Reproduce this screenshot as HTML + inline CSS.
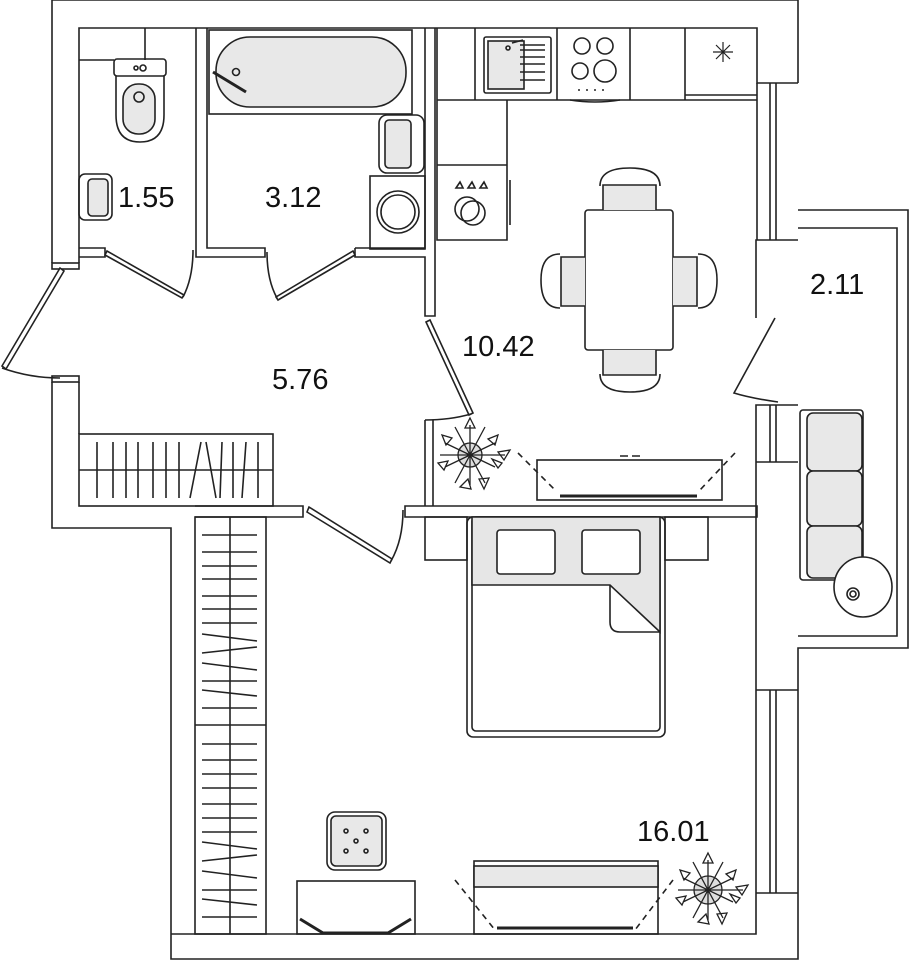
<!DOCTYPE html><html><head><style>body{margin:0;background:#fff}svg{display:block}text{font-family:"Liberation Sans",sans-serif;font-size:29px;fill:#111;stroke:none}</style></head><body>
<svg width="909" height="960" viewBox="0 0 909 960" fill="none" stroke="#222" stroke-width="1.6">
<!-- outer walls -->
<path d="M52 263 V0 H798 V83 M52 382 V528 H171 V959 H798 V648 H908 V210 H798" />
<path d="M79 263 V28 H757 V83 H798" />
<path d="M79 382 V434" />
<path d="M171 934 H756 V893 H798 M756 893 V690 H798 M756 690 V462 H798 M756 462 V405 H798 M756 318 V240 H798 M757 240 V83" />
<path d="M798 228 H897 V636 H798" />
<!-- windows -->
<path d="M770 83 V240 M776 83 V240 M770 405 V462 M776 405 V462 M770 690 V893 M776 690 V893"/>
<!-- entrance door -->
<rect x="52" y="263" width="27" height="6" fill="#fff"/><rect x="52" y="376" width="27" height="6" fill="#fff"/>
<path d="M60 268 L2 366 L6 369 L64 271 Z" fill="#fff"/><path d="M2 368 Q30 378 60 378"/>
<!-- bathroom walls -->
<path d="M196 28 V257 H265 V248 H207 V28"/>
<path d="M79 248 H105 V257 H79"/>
<path d="M355 248 H425 V28 M435 28 V316 H425 V257 H355 V248"/>
<path d="M105 255 L182 298 L184 295 L107 251 Z" fill="#fff"/><path d="M183 297 Q193 278 193 250"/>
<path d="M355 255 L278 300 L276 297 L353 251 Z" fill="#fff"/><path d="M277 298 Q267 280 267 252"/>
<!-- toilet room fixtures -->
<path d="M145 28 V60 M79 60 H114"/>
<rect x="114" y="59" width="52" height="17" rx="3"/><circle cx="136" cy="68" r="2"/><circle cx="143" cy="68" r="3"/>
<path d="M116 76 V115 Q116 142 140 142 Q164 142 164 115 V76" /><rect x="123" y="84" width="32" height="50" rx="15" fill="#e8e8e8"/><circle cx="139" cy="97" r="5"/>
<rect x="79" y="174" width="33" height="46" rx="6"/><rect x="88" y="179" width="20" height="37" rx="4" fill="#e8e8e8"/>
<text x="118" y="207">1.55</text>
<!-- bath -->
<rect x="209" y="30" width="203" height="84"/><rect x="216" y="37" width="190" height="70" rx="34" fill="#e8e8e8"/>
<path d="M213 72 L246 92" stroke-width="3"/><circle cx="236" cy="72" r="3.5"/>
<rect x="379" y="115" width="45" height="58" rx="8"/><rect x="385" y="120" width="26" height="48" rx="4" fill="#e8e8e8"/>
<rect x="370" y="176" width="55" height="73"/><circle cx="398" cy="212" r="21"/><circle cx="398" cy="212" r="17"/>
<text x="265" y="207">3.12</text>
<text x="272" y="389">5.76</text>
<!-- hallway closet -->
<rect x="79" y="434" width="194" height="72"/><line x1="79" y1="470" x2="273" y2="470"/>
<path d="M97 442 V498 M113 442 V498 M126 442 V498 M138 442 V498 M153 442 V498 M166 442 V498 M179 442 V498 M190 498 L201 442 M206 442 L216 498 M222 442 L220 498 M233 442 V498 M246 442 L242 498 M258 442 V498"/>
<!-- wall hallway/bedroom -->
<path d="M195 506 H303 V517 H195"/>
<path d="M307 512 L390 563 L392 559 L309 507 Z" fill="#fff"/><path d="M391 561 Q403 540 403 510"/>
<path d="M405 506 H757 V517 H405 Z"/>
<!-- wardrobe -->
<rect x="195" y="517" width="71" height="417"/><line x1="230" y1="517" x2="230" y2="934"/><line x1="195" y1="725" x2="266" y2="725"/>
<path d="M202 535 H257 M202 552 H257 M202 566 H257 M202 579 H257 M202 596 H257 M202 609 H257 M202 623 H257 M202 634 L257 641 M202 653 L257 647 M202 663 L257 670 M202 681 H257 M202 690 L257 696 M202 708 H257 M202 744 H257 M202 760 H257 M202 774 H257 M202 788 H257 M202 804 H257 M202 818 H257 M202 832 H257 M202 842 L257 849 M202 861 L257 855 M202 871 L257 878 M202 890 H257 M202 899 L257 905 M202 917 H257"/>
<!-- kitchen left wall -->
<path d="M425 420 V506 M433 420 V506"/>
<path d="M430 320 L473 413 L469 415 L426 322 Z" fill="#fff"/><path d="M471 414 Q450 420 425 420"/>
<!-- kitchen counter -->
<path d="M437 28 V240 H507 V100 H757 M437 100 H507"/>
<path d="M475 28 V100 M557 28 V100 M630 28 V100 M685 28 V100"/>
<line x1="685" y1="95" x2="757" y2="95"/>
<rect x="484" y="37" width="67" height="56" rx="2"/><rect x="488" y="41" width="36" height="48" fill="#e8e8e8"/>
<path d="M520 45 H545 M520 50 H545 M520 57 H545 M520 64 H545 M520 72 H545 M520 80 H545"/>
<circle cx="508" cy="48" r="2"/><path d="M512 43 L523 40"/>
<circle cx="582" cy="46" r="8"/><circle cx="605" cy="46" r="8"/><circle cx="580" cy="71" r="8"/><circle cx="605" cy="71" r="11"/>
<path d="M578 90 h2 M586 90 h2 M594 90 h2 M602 90 h2"/><path d="M570 100 Q595 104 620 100"/>
<path d="M713 52 H733 M723 42 V62 M716 45 L730 59 M730 45 L716 59" stroke-width="1.2"/>
<line x1="437" y1="165" x2="507" y2="165"/>
<path d="M510 180 V225"/>
<circle cx="467" cy="209" r="12"/><circle cx="473" cy="213" r="12"/>
<path d="M456 188 l4 -6 l3 6 z M468 188 l4 -6 l3 6 z M480 188 l4 -6 l3 6 z"/>
<text x="462" y="356">10.42</text>
<!-- dining -->
<rect x="585" y="210" width="88" height="140" rx="3"/>
<path d="M603 210 V185 H656 V210" fill="#e8e8e8"/><path d="M600 186 Q600 168 630 168 Q660 168 660 186"/>
<path d="M603 350 V375 H656 V350" fill="#e8e8e8"/><path d="M600 374 Q600 392 630 392 Q660 392 660 374"/>
<path d="M585 257 H561 V306 H585" fill="#e8e8e8"/><path d="M560 254 Q541 254 541 280 Q541 308 560 308"/>
<path d="M673 257 H697 V306 H673" fill="#e8e8e8"/><path d="M698 254 Q717 254 717 280 Q717 308 698 308"/>
<!-- balcony door -->
<path d="M775 318 L734 393 Q750 398 778 402"/>
<text x="810" y="294">2.11</text>
<!-- sofa -->
<rect x="800" y="410" width="63" height="170" rx="3"/>
<rect x="807" y="413" width="55" height="58" rx="6" fill="#e8e8e8"/><rect x="807" y="471" width="55" height="55" rx="6" fill="#e8e8e8"/><rect x="807" y="526" width="55" height="52" rx="6" fill="#e8e8e8"/>
<ellipse cx="863" cy="587" rx="29" ry="30" fill="#fff"/><circle cx="853" cy="594" r="6"/><circle cx="853" cy="594" r="3"/>
<!-- kitchen TV / plant -->
<rect x="537" y="460" width="185" height="40"/><path d="M560 496 H697" stroke-width="3"/>
<path d="M518 453 L555 490 M735 453 L700 490" stroke-dasharray="6 5"/>
<path d="M620 456 h8 M632 456 h8"/>
<g transform="translate(470,455)" stroke-width="1.3"><circle r="12" fill="#ddd"/><path d="M-25 -12 L25 12 M-25 12 L25 -12 M0 -30 V30 M-30 0 H35 M-15 -28 L15 28 M15 -28 L-15 28"/><path d="M0 -37 l5 10 l-10 0 z M-28 -20 l10 3 l-6 7 z M28 -20 l-3 10 l-7 -6 z M-32 8 l10 -2 l-4 9 z M32 8 l-10 -4 l6 9 z M-10 32 l8 -8 l3 10 z M14 34 l-5 -10 l10 -1 z M40 -5 l-12 2 l6 8 z"/></g>
<!-- bed -->
<rect x="425" y="517" width="42" height="43"/><rect x="665" y="517" width="43" height="43"/>
<rect x="467" y="517" width="198" height="220" rx="6"/><rect x="472" y="517" width="188" height="214" rx="4"/>
<path d="M472 517 H660 V632 L610 585 H472 Z" fill="#e6e6e6"/><path d="M610 585 V622 Q610 632 620 632 H660"/>
<rect x="497" y="530" width="58" height="44" rx="3" fill="#fff"/><rect x="582" y="530" width="58" height="44" rx="3" fill="#fff"/>
<!-- bedroom -->
<rect x="327" y="812" width="59" height="58" rx="8"/><rect x="331" y="816" width="51" height="50" rx="5" fill="#e8e8e8"/>
<circle cx="346" cy="831" r="2"/><circle cx="366" cy="831" r="2"/><circle cx="356" cy="841" r="2"/><circle cx="346" cy="851" r="2"/><circle cx="366" cy="851" r="2"/>
<rect x="297" y="881" width="118" height="53"/><path d="M300 919 L323 933 H388 L411 919" stroke-width="3"/>
<rect x="474" y="861" width="184" height="73"/><rect x="474" y="866" width="184" height="21" fill="#e8e8e8"/>
<path d="M455 880 L495 930 M673 880 L635 930" stroke-dasharray="6 5"/><path d="M497 928 H633" stroke-width="3"/>
<text x="637" y="841">16.01</text>
<g transform="translate(708,890)" stroke-width="1.3"><circle r="14" fill="#ddd"/><path d="M-25 -12 L25 12 M-25 12 L25 -12 M0 -30 V30 M-30 0 H35 M-15 -28 L15 28 M15 -28 L-15 28"/><path d="M0 -37 l5 10 l-10 0 z M-28 -20 l10 3 l-6 7 z M28 -20 l-3 10 l-7 -6 z M-32 8 l10 -2 l-4 9 z M32 8 l-10 -4 l6 9 z M-10 32 l8 -8 l3 10 z M14 34 l-5 -10 l10 -1 z M40 -5 l-12 2 l6 8 z"/></g>
</svg></body></html>
